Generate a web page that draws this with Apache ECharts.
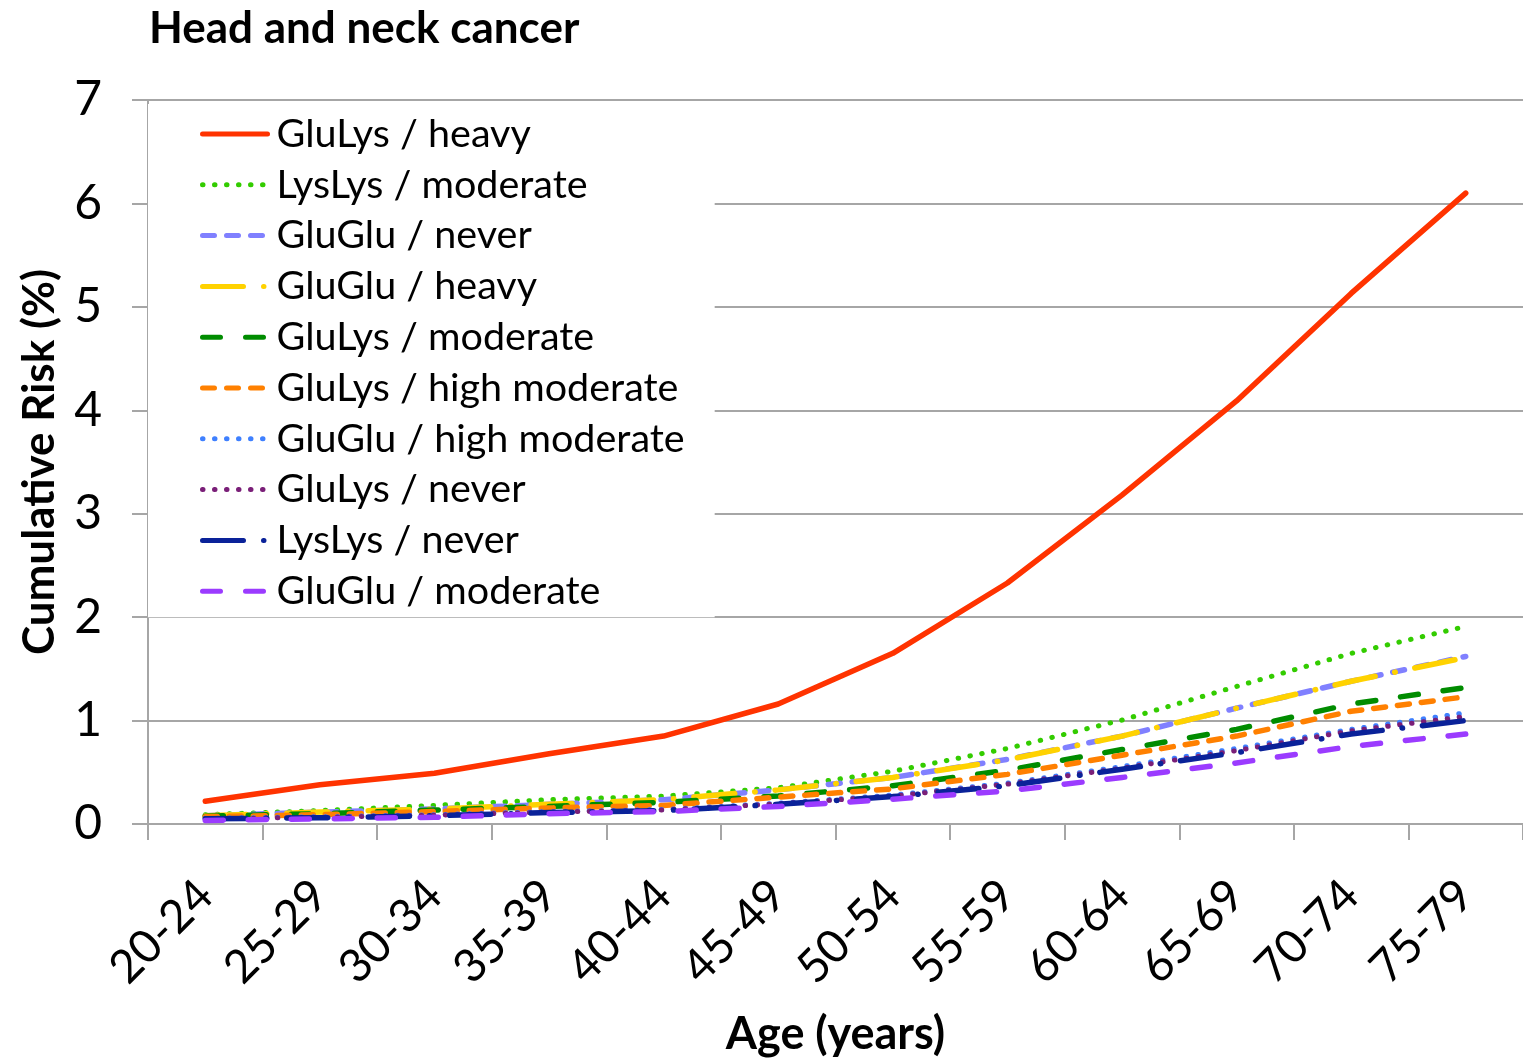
<!DOCTYPE html>
<html>
<head>
<meta charset="utf-8">
<title>Head and neck cancer</title>
<script src="https://cdn.jsdelivr.net/npm/echarts@6/dist/echarts.min.js"></script>
<style>
  html, body { margin: 0; padding: 0; background: #fff; }
  #chart { width: 1523px; height: 1062px; }
</style>
</head>
<body>
<div id="chart"></div>
<script>
// age groups on the x axis
const ageGroups = ['20-24', '25-29', '30-34', '35-39', '40-44', '45-49',
  '50-54', '55-59', '60-64', '65-69', '70-74', '75-79']

// cumulative risk (%)
const gluLysHeavy = [0.22, 0.38, 0.49, 0.68, 0.85, 1.16, 1.65, 2.33, 3.18, 4.09, 5.13, 6.10]
const lysLysModerate = [0.09, 0.13, 0.18, 0.235, 0.27, 0.35, 0.51, 0.73, 1.005, 1.33, 1.65, 1.91]
const gluGluNever = [0.08, 0.115, 0.145, 0.19, 0.235, 0.33, 0.45, 0.625, 0.85, 1.12, 1.38, 1.62]
const gluGluHeavy = [0.08, 0.115, 0.145, 0.19, 0.235, 0.33, 0.45, 0.62, 0.85, 1.12, 1.38, 1.61]
const gluLysModerate = [0.075, 0.10, 0.135, 0.17, 0.21, 0.27, 0.37, 0.52, 0.72, 0.915, 1.16, 1.32]
const gluLysHighModerate = [0.07, 0.09, 0.12, 0.155, 0.18, 0.26, 0.34, 0.48, 0.665, 0.85, 1.09, 1.23]
const gluGluHighModerate = [0.055, 0.07, 0.09, 0.12, 0.14, 0.20, 0.28, 0.395, 0.555, 0.73, 0.915, 1.075]
const gluLysNever = [0.05, 0.065, 0.085, 0.115, 0.135, 0.195, 0.27, 0.385, 0.54, 0.71, 0.90, 1.04]
const lysLysNever = [0.05, 0.06, 0.08, 0.11, 0.13, 0.19, 0.265, 0.37, 0.53, 0.69, 0.87, 1.00]
const gluGluModerate = [0.035, 0.05, 0.065, 0.10, 0.12, 0.17, 0.24, 0.32, 0.45, 0.59, 0.75, 0.87]

const yTicks = [0, 7, 1] // min, max, interval

const FONT = 'Lato'
const GRID_GREY = '#a6a6a6'

// dash patterns (round caps add half a line width at each end)
const DOT = [0.5, 11.5]
const SHORT_DASH = [12, 12]
const DASH = [18, 25]
const LONG_DASH_DOT = [41, 20, 0.5, 20]

function line(name, data, color, type, width) {
    return {
        name,
        type: 'line',
        data,
        symbol: 'none',
        smooth: false,
        animation: false,
        lineStyle: { color, width: width || 5, type: type || 'solid', cap: 'round', join: 'round' },
        itemStyle: { color }
    }
}

const chart = echarts.init(document.getElementById('chart'))
chart.setOption({
    backgroundColor: '#fff',
    title: {
        text: 'Head and neck cancer',
        left: 144,
        top: 2,
        textStyle: { fontFamily: FONT, fontWeight: 'bold', fontSize: 44, color: '#000' }
    },
    legend: {
        orient: 'vertical',
        left: 148,
        top: 104,
        padding: [8, 30, 4, 52],
        backgroundColor: '#fff',
        itemWidth: 65,
        itemHeight: 14,
        itemGap: 6.8,
        itemStyle: { opacity: 0 },
        lineStyle: { width: 5, cap: 'round' },
        textStyle: { fontFamily: FONT, fontSize: 39.5, color: '#000', lineHeight: 44, padding: [0, 0, 0, 4] },
        data: ['GluLys / heavy', 'LysLys / moderate', 'GluGlu / never', 'GluGlu / heavy',
            'GluLys / moderate', 'GluLys / high moderate', 'GluGlu / high moderate',
            'GluLys / never', 'LysLys / never', 'GluGlu / moderate']
    },
    grid: {
        left: 148,
        right: -3,
        top: 100,
        bottom: 234,
        containLabel: false
    },
    xAxis: {
        type: 'category',
        data: ageGroups,
        boundaryGap: true,
        name: 'Age (years)',
        nameLocation: 'middle',
        nameGap: 188,
        nameTextStyle: { fontFamily: FONT, fontWeight: 'bold', fontSize: 45, color: '#000' },
        axisLine: { lineStyle: { color: GRID_GREY, width: 2 } },
        axisTick: { show: true, length: 16, lineStyle: { color: GRID_GREY, width: 2 } },
        axisLabel: { rotate: 45, margin: 64, fontFamily: FONT, fontSize: 46, color: '#000' },
        splitLine: { show: false }
    },
    yAxis: {
        type: 'value',
        min: yTicks[0],
        max: yTicks[1],
        interval: yTicks[2],
        name: 'Cumulative Risk (%)',
        nameLocation: 'middle',
        nameGap: 86,
        nameTextStyle: { fontFamily: FONT, fontWeight: 'bold', fontSize: 44, color: '#000' },
        axisLine: { show: true, lineStyle: { color: GRID_GREY, width: 2 } },
        axisTick: { show: true, length: 16, lineStyle: { color: GRID_GREY, width: 2 } },
        axisLabel: { margin: 46, fontFamily: FONT, fontSize: 48, color: '#000' },
        splitLine: { show: true, lineStyle: { color: GRID_GREY, width: 2 } }
    },
    series: [
        line('GluLys / heavy', gluLysHeavy, '#ff3300', 'solid', 5.5),
        line('LysLys / moderate', lysLysModerate, '#33cc00', DOT, 5),
        line('GluGlu / never', gluGluNever, '#8080ff', SHORT_DASH, 5.5),
        line('GluGlu / heavy', gluGluHeavy, '#ffd200', LONG_DASH_DOT, 5.5),
        line('GluLys / moderate', gluLysModerate, '#008c00', DASH, 5.5),
        line('GluLys / high moderate', gluLysHighModerate, '#ff8000', SHORT_DASH, 5.5),
        line('GluGlu / high moderate', gluGluHighModerate, '#3f80ff', DOT, 5),
        line('GluLys / never', gluLysNever, '#7a1f78', DOT, 5),
        line('LysLys / never', lysLysNever, '#0a2299', LONG_DASH_DOT, 5.5),
        line('GluGlu / moderate', gluGluModerate, '#9b3bff', DASH, 5.5)
    ]
})
</script>
</body>
</html>
